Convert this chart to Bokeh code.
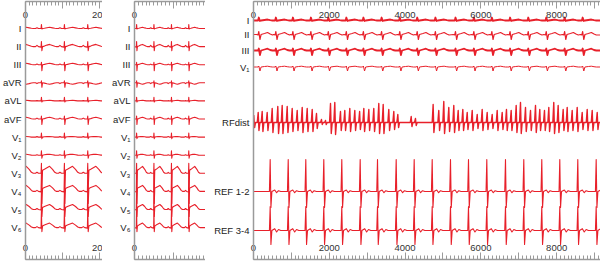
from bokeh.plotting import figure
from bokeh.layouts import row
from bokeh.models import Range1d, SingleIntervalTicker, FixedTicker, LinearAxis
from bokeh.embed import file_html
from bokeh.resources import INLINE

# ---------------- data ----------------
leads12 = ["I", "II", "III", "aVR", "aVL", "aVF", "V\u2081", "V\u2082", "V\u2083", "V\u2084", "V\u2085", "V\u2086"]
leads3 = ["I", "II", "III", "V\u2081", "RFdist", "REF 1-2", "REF 3-4"]

# beat (R peak) times, panel A (sinus) and panel B (faster), x units 0-20
beats_a = [-2.0, 4.3, 10.5, 16.8]
beats_b = [-3.9, 0.55, 5.05, 9.6, 14.1]

# beat template knots (time offset from R), amplitudes in px
knot_t = [-1.6, -1.2, -0.8, -0.1, 0.0, 0.12, 0.3, 0.8, 1.5, 2.2, 3.0, 3.6, 4.1]
amp_I   = [0, 0.8, 0, 0, 4, -0.5, 0, 0.3, 0.8, 1.2, 0.6, 0.2, 0]
amp_II  = [0, 1.2, 0, -0.5, 5, -4, 0, 0.5, 1.5, 2.2, 1.2, 0.3, 0]
amp_III = [0, 0.6, 0, 0, 2.5, -6, 0, 0.3, 1.0, 1.5, 0.8, 0.2, 0]
amp_aVR = [0, -0.8, 0, 0, 2, -4.5, 0, -0.3, -1.0, -1.5, -0.8, -0.2, 0]
amp_aVL = [0, 0.3, 0, 0, 3.5, -1.0, 0, 0.2, 0.4, 0.6, 0.3, 0, 0]
amp_aVF = [0, 0.9, 0, 0, 3, -5.5, 0, 0.4, 1.2, 1.8, 1.0, 0.3, 0]
amp_V1  = [0, 0.5, 0, 0, 4, -1.5, 0, 0.3, 0.5, 0.6, 0.3, 0, 0]
amp_V2  = [0, 0.5, 0, 0, 4.5, -3, 0, 0.5, 0.8, 1.0, 0.5, 0.1, 0]
amp_V3  = [0, 1, 0, 0, 10, -18, 3, 4, 5.5, 7, 4, 1, 0]
amp_V4  = [0, 1, 0, -0.5, 18, -12, 3, 4, 5, 6, 3.5, 1, 0]
amp_V5  = [0, 1, 0, -0.5, 18, -7, 2, 3, 4, 5, 3, 0.8, 0]
amp_V6  = [0, 1, 0, -0.5, 18, -4, 1.5, 2.5, 3.5, 4.5, 2.5, 0.6, 0]
amps12 = [amp_I, amp_II, amp_III, amp_aVR, amp_aVL, amp_aVF, amp_V1, amp_V2, amp_V3, amp_V4, amp_V5, amp_V6]

# panel C (ms)
ecg_beats = [140, 590, 1040, 1515, 1975, 2450, 2900, 3380, 3860, 4320, 4800, 5330, 5815,
             6290, 6770, 7250, 7725, 8210, 8685]
ref_beats = [440, 916, 1380, 1855, 2330, 2815, 3272, 3765, 4240, 4715, 5198, 5673, 6156,
             6649, 7132, 7607, 8082, 8557, 9042]
knot_c = [-60, -20, 0, 30, 60, 150, 230, 300, 360]
c_I   = [0, 0, 3, -0.5, 0, 0.5, 1, 0.3, 0]
c_II  = [0, -0.5, 3, -5, 0, 1, 2, 0.5, -0.5]
c_III = [0, 0, 2, -4.5, 0, 1, 1.8, 0.5, 0]
c_V1  = [0, 0, 1, -4, 0, 0.5, 0.8, 0.3, 0]
knot_ref = [-20, 0, 20, 45, 120, 170, 220, 280]
ref12 = [0, 32, -16, 0, 1.5, -1.2, 0.8, 0]
ref34 = [0, 24, -14, 0, 1.8, -1.5, 1.0, 0]

rf_t = [8, 124, 229, 361, 493, 641, 757, 889, 1021, 1153, 1285, 1417, 1549, 1662, 1794, 1900,
        2032, 2145, 2295, 2409, 2541, 2673, 2800, 2911, 3043, 3174, 3306, 3422, 3570, 3702,
        3808, 4161, 4274, 4740, 4889, 5021, 5153, 5285, 5401, 5523, 5639, 5771, 5903, 6034,
        6166, 6298, 6430, 6562, 6675, 6799, 6931, 7045, 7177, 7309, 7441, 7554, 7678, 7792,
        7923, 8039, 8171, 8277, 8409, 8541, 8673, 8805, 8937, 9069]
rf_up = [7, 10, 11, 10, 14, 16, 17, 16, 14, 12, 15, 14, 13, 9, 3, 2, 19, 20, 11, 12,
         14, 12, 11, 14, 13, 14, 19, 18, 13, 11, 8, 6, 4, 18, 12, 21, 15, 17, 12, 13,
         10, 12, 8, 13, 10, 8, 12, 10, 13, 12, 17, 20, 15, 12, 17, 13, 12, 15, 20, 17,
         13, 15, 12, 15, 10, 13, 12, 10]
rf_down = [5, 8, 9, 8, 10, 11, 11, 10, 9, 8, 10, 9, 9, 6, 2, 2, 11, 12, 8, 8,
           9, 8, 7, 9, 8, 9, 11, 11, 8, 7, 5, 4, 3, 10, 8, 11, 9, 10, 8, 8,
           7, 8, 6, 8, 7, 6, 8, 7, 8, 8, 10, 11, 9, 8, 10, 8, 8, 9, 11, 10,
           8, 9, 8, 9, 7, 8, 8, 7]
knot_rf = [-25, 0, 20, 45]

# ---------------- style / layout ----------------
RED = "#e8202a"
AXIS = "#9a9a9a"
FONT = "Liberation Sans"
GAIN = 18.1  # px per lead spacing
Y0, Y1 = -12.762, 1.492
pos12 = [-i for i in range(12)]
pos3 = [0.442, -0.331, -1.215, -2.127, -5.193, -9.006, -11.16]


def clip(xs, ys, lo, hi):
    """keep the polyline inside [lo, hi] (adds the crossing points at the edges)"""
    ox, oy = [], []
    for i in range(len(xs)):
        x, y = xs[i], ys[i]
        if i > 0:
            px, py = xs[i - 1], ys[i - 1]
            for edge in (lo, hi):
                if (px - edge) * (x - edge) < 0:
                    ox.append(edge)
                    oy.append(py + (y - py) * (edge - px) / (x - px))
        if lo <= x <= hi:
            ox.append(x)
            oy.append(y)
    return ox, oy


def build(beats, kt, amps, base, tscale, x0, x1):
    xs, ys = [x0 - 1e6], [base]
    for b in beats:
        for dt, a in zip(kt, amps):
            xs.append(b + dt * tscale)
            ys.append(base + a / GAIN)
    xs.append(x1 + 1e6)
    ys.append(base)
    return clip(xs, ys, x0, x1)


def make_fig(width, left, xmax, major, overrides, ypos, ylabels):
    p = figure(width=width, height=262, x_range=Range1d(0, xmax), y_range=Range1d(Y0, Y1),
               output_backend="svg", toolbar_location=None,
               min_border_left=left, min_border_right=0, min_border_top=1, min_border_bottom=3,
               x_axis_location=None, y_axis_location=None)
    p.outline_line_color = None
    p.grid.visible = False
    for loc, so in (("above", -16), ("below", -15)):
        ax = LinearAxis(ticker=SingleIntervalTicker(interval=major, num_minor_ticks=10),
                        major_label_overrides=overrides,
                        axis_line_color=AXIS, axis_line_width=1.5,
                        major_tick_line_color=AXIS, minor_tick_line_color=AXIS,
                        major_tick_in=7, major_tick_out=0, minor_tick_in=4, minor_tick_out=0,
                        major_label_standoff=so,
                        major_label_text_font=FONT, major_label_text_font_size="9.5px",
                        major_label_text_color="#333333")
        p.add_layout(ax, loc)
    yax = LinearAxis(ticker=FixedTicker(ticks=ypos, minor_ticks=[]),
                     major_label_overrides={k: v for k, v in zip(ypos, ylabels)},
                     axis_line_color=AXIS, axis_line_width=1.5,
                     major_tick_in=0, major_tick_out=0, minor_tick_in=0, minor_tick_out=0,
                     major_label_standoff=4,
                     major_label_text_font=FONT, major_label_text_font_size="9.5px",
                     major_label_text_color="#222222")
    p.add_layout(yax, "left")
    return p


XA, XB, XC = 20.78, 18.44, 9156

p1 = make_fig(102, 22, XA, 10, {10: "", 30: ""}, pos12, leads12)
for base, amps in zip(pos12, amps12):
    xs, ys = build(beats_a, knot_t, amps, base, 1.0, 0, XA)
    p1.line(xs, ys, line_color=RED, line_width=1.1, line_join="round")

p2 = make_fig(103, 32, XB, 10, {10: "", 20: ""}, pos12, leads12)
for base, amps in zip(pos12, amps12):
    xs, ys = build(beats_b, knot_t, amps, base, 0.7, 0, XB)
    p2.line(xs, ys, line_color=RED, line_width=1.1, line_join="round")

p3 = make_fig(395, 48, XC, 1000, {1000: "", 3000: "", 5000: "", 7000: "", 9000: ""}, pos3, leads3)
for base, amps, lw in zip(pos3[:4], [c_I, c_II, c_III, c_V1], [1.8, 1.2, 1.8, 1.0]):
    xs, ys = build(ecg_beats, knot_c, amps, base, 1.0, 0, XC)
    p3.line(xs, ys, line_color=RED, line_width=lw, line_join="round")

xs, ys = [-1e6], [pos3[4]]
for t, u, d in zip(rf_t, rf_up, rf_down):
    for dt, a in zip(knot_rf, [0, u, -d, 0]):
        xs.append(t + dt)
        ys.append(pos3[4] + a / GAIN)
xs.append(1e6)
ys.append(pos3[4])
xs, ys = clip(xs, ys, 0, XC)
p3.line(xs, ys, line_color=RED, line_width=1.4, line_join="round")

for base, amps in ((pos3[5], ref12), (pos3[6], ref34)):
    xs, ys = build(ref_beats, knot_ref, amps, base, 1.0, 0, XC)
    p3.line(xs, ys, line_color=RED, line_width=1.1, line_join="round")

layout = row(p1, p2, p3)
open("out.html", "w").write(file_html(layout, INLINE))
